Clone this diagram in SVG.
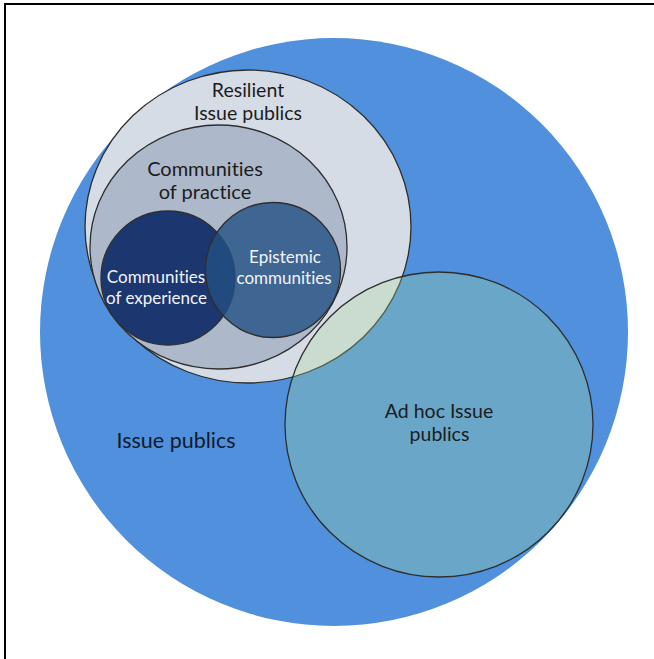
<svg xmlns="http://www.w3.org/2000/svg" width="654" height="659" viewBox="0 0 654 659">
<style>
.ring{stroke:#2e2e2e;stroke-width:1.3}
.t{font-family:Lato,"Open Sans","Liberation Sans",sans-serif;text-anchor:middle;fill:#1c1c1c;font-variant-ligatures:none;font-feature-settings:"liga" 0}
.w{fill:#f2f4f8}
</style>
<rect x="0" y="0" width="654" height="659" fill="#ffffff"/>
<rect x="5" y="4" width="680" height="680" fill="none" stroke="#000000" stroke-width="2"/>
<g id="issue-publics">
<circle cx="334" cy="332" r="294" fill="#5090DC"/>
<text class="t" x="176" y="448" font-size="21.5" style="fill:#0f1c2e">Issue publics</text>
</g>
<g id="resilient-issue-publics">
<ellipse class="ring" cx="248" cy="226.5" rx="163" ry="156.5" fill="#D6DCE6"/>
<text class="t" x="248" y="97" font-size="19.5">Resilient</text>
<text class="t" x="248" y="120" font-size="19.5">Issue publics</text>
</g>
<g id="communities-of-practice">
<ellipse class="ring" cx="218.5" cy="247" rx="128.5" ry="122" fill="#ADB9CA"/>
<text class="t" x="205" y="176" font-size="20">Communities</text>
<text class="t" x="205" y="199" font-size="20">of practice</text>
</g>
<g id="communities-of-experience">
<circle class="ring" cx="168" cy="278" r="67" fill="#1C3670"/>
<text class="t w" x="156" y="283" font-size="17">Communities</text>
<text class="t w" x="156.5" y="304" font-size="17">of experience</text>
</g>
<g id="epistemic-communities">
<circle class="ring" cx="273" cy="270" r="67.5" fill="#235083" fill-opacity="0.8"/>
<text class="t w" x="285" y="263" font-size="17">Epistemic</text>
<text class="t w" x="284" y="284" font-size="17">communities</text>
</g>
<g id="ad-hoc-issue-publics">
<ellipse class="ring" cx="439" cy="424.5" rx="154" ry="152.5" fill="#ADDE97" fill-opacity="0.28"/>
<text class="t" x="439" y="418" font-size="19.5">Ad hoc Issue</text>
<text class="t" x="439.5" y="441" font-size="19.5">publics</text>
</g>
</svg>
